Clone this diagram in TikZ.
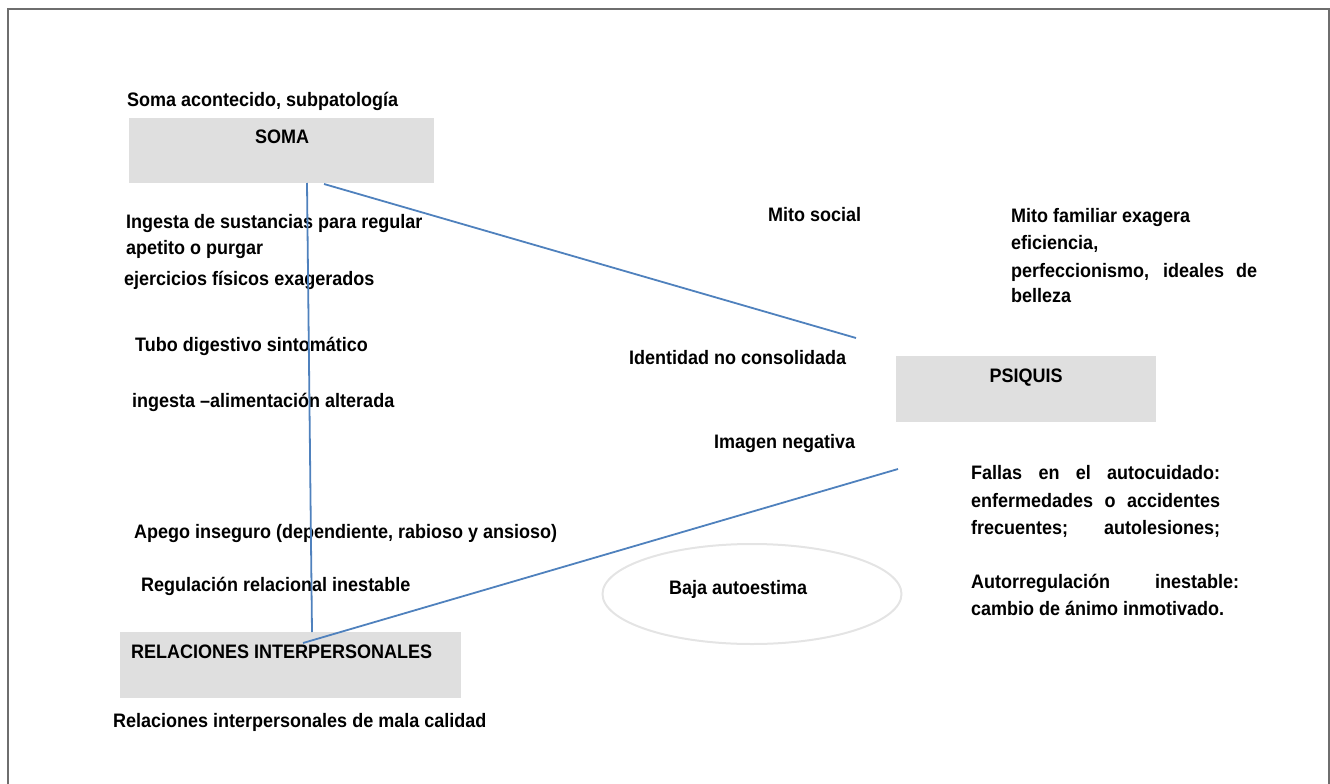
\documentclass[tikz,border=0pt]{standalone}
\usepackage{fontspec}
\setmainfont{Liberation Sans}[FakeStretch=0.923]
\usetikzlibrary{shapes.geometric}
\definecolor{lineblue}{HTML}{4F81BD}
\definecolor{boxgray}{HTML}{DFDFDF}
\definecolor{ellgray}{HTML}{E4E4E4}
\definecolor{framegray}{HTML}{6E6E6E}
\newcommand{\mypar}[2]{\parbox[t]{#1}{#2}}
\newcommand{\jl}[2]{\makebox[#1][s]{#2}}
\tikzset{
  lbl/.style={anchor=base west, inner sep=0pt, font=\fontsize{19.5}{27}\selectfont\bfseries},
  graybox/.style={fill=boxgray, draw=none, inner sep=0pt, anchor=north west},
  link/.style={draw=lineblue, line width=1.8pt},
}
\begin{document}
\begin{tikzpicture}[x=1pt,y=-1pt]
\useasboundingbox (0,0) rectangle (1330,784);
% frame
\draw[framegray, line width=1.4pt] (8,790) -- (8,9) -- (1329,9) -- (1329,790);
% boxes
\node[graybox, minimum width=305pt, minimum height=65pt] (soma) at (129,118) {};
\node[graybox, minimum width=260pt, minimum height=66pt] (psiquis) at (896,356) {};
\node[graybox, minimum width=341pt, minimum height=66pt] (rel) at (120,632) {};
\node[draw=ellgray, line width=2pt, ellipse, minimum width=299pt, minimum height=100pt, inner sep=0pt] (baja) at (752,594) {};
% box titles
\node[lbl, anchor=base] (somat) at (282,143) {SOMA};
\node[lbl, anchor=base] (psiquist) at (1026,382) {PSIQUIS};
\node[lbl] (relt) at (131,658) {RELACIONES INTERPERSONALES};
\node[lbl] (bajat) at (669,594) {Baja autoestima};
% labels
\node[lbl] (somalbl) at (127,106) {Soma acontecido, subpatología};
\node[lbl] (ingesta) at (126,228) {\mypar{320pt}{Ingesta de sustancias para regular\\[-1pt]apetito o purgar}};
\node[lbl] (ejerc) at (124,285) {ejercicios físicos exagerados};
\node[lbl] (tubo) at (135,351) {Tubo digestivo sintomático};
\node[lbl] (ingalt) at (132,407) {ingesta –alimentación alterada};
\node[lbl] (mitos) at (768,221) {Mito social};
\node[lbl] (mitof) at (1011,222) {\mypar{260pt}{Mito familiar exagera\\eficiencia,\\[1pt]\jl{246pt}{perfeccionismo, ideales de}\\[-2pt]belleza}};
\node[lbl] (ident) at (629,364) {Identidad no consolidada};
\node[lbl] (imagen) at (714,448) {Imagen negativa};
\node[lbl] (fallas) at (971,479) {\mypar{270pt}{\jl{249pt}{Fallas en el autocuidado:}\\[1pt]\jl{249pt}{enfermedades o accidentes}\\\jl{249pt}{frecuentes; autolesiones;}}};
\node[lbl] (autor) at (971,588) {\mypar{280pt}{\jl{268pt}{Autorregulación inestable:}\\cambio de ánimo inmotivado.}};
\node[lbl] (apego) at (134,538) {Apego inseguro (dependiente, rabioso y ansioso)};
\node[lbl] (regul) at (141,591) {Regulación relacional inestable};
\node[lbl] (malacal) at (113,727) {Relaciones interpersonales de mala calidad};
% connectors
\coordinate (a1) at (307,183);
\coordinate (a2) at (312,632);
\coordinate (b1) at (324,184);
\coordinate (b2) at (856,338);
\coordinate (c1) at (898,469);
\coordinate (c2) at (303,643);
\draw[link] (a1) -- (a2);
\draw[link] (b1) -- (b2);
\draw[link] (c1) -- (c2);
\end{tikzpicture}
\end{document}
